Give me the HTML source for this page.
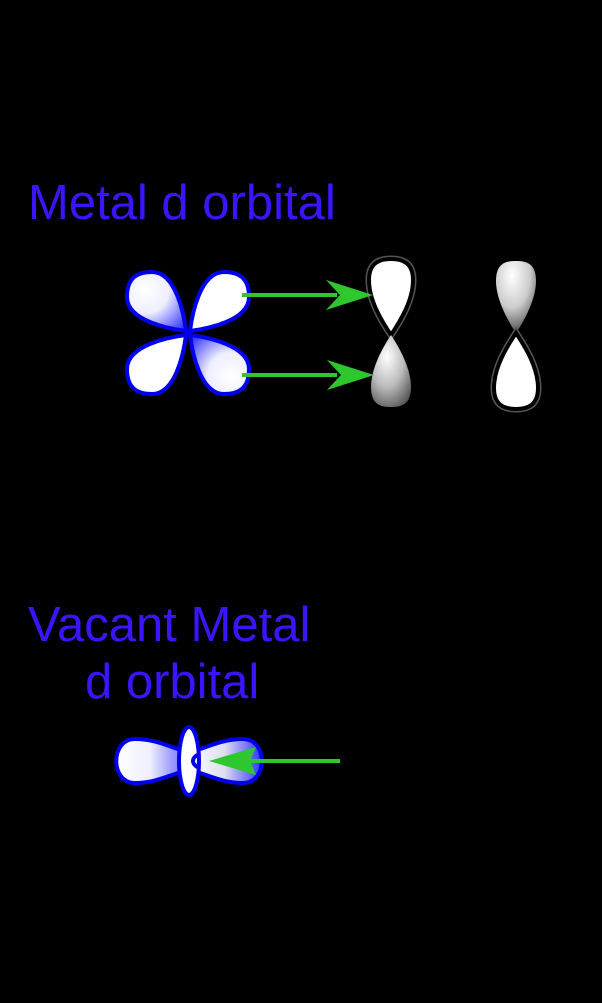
<!DOCTYPE html>
<html><head><meta charset="utf-8"><style>
html,body{margin:0;padding:0;background:#000;}
svg{display:block;}
text{font-family:"Liberation Sans",sans-serif;fill:#3c14ff;}
</style></head><body>
<svg width="602" height="1003" viewBox="0 0 602 1003">
<defs>
<radialGradient id="bw" cx="0.3" cy="0.3" r="0.9"><stop offset="0" stop-color="#fff"/><stop offset="0.45" stop-color="#eeeeff"/><stop offset="1" stop-color="#3a3aff"/></radialGradient>
<radialGradient id="gw" cx="0.4" cy="0.3" r="0.85"><stop offset="0" stop-color="#fff"/><stop offset="0.5" stop-color="#bbb"/><stop offset="1" stop-color="#444"/></radialGradient>
<radialGradient id="gw2" cx="0.4" cy="0.2" r="0.9"><stop offset="0" stop-color="#fff"/><stop offset="0.5" stop-color="#ccc"/><stop offset="1" stop-color="#333"/></radialGradient>
<linearGradient id="lb" x1="0" y1="0" x2="1" y2="0"><stop offset="0" stop-color="#fff"/><stop offset="0.5" stop-color="#eef"/><stop offset="1" stop-color="#7070ff"/></linearGradient>
<linearGradient id="rb" x1="0" y1="0" x2="1" y2="0"><stop offset="0" stop-color="#fff"/><stop offset="0.5" stop-color="#dde"/><stop offset="1" stop-color="#3030ff"/></linearGradient>
</defs>

<text x="28" y="219" font-size="49">Metal d orbital</text>

<g transform="translate(188,333)" stroke="#0000ee" stroke-width="4">
<path d="M-2,-2 C-18,-4 -61,-12 -61,-36 C-61,-56 -50,-61 -36,-61 C-12,-61 -4,-18 -2,-2Z" fill="url(#bw)"/>
<path d="M-2,-2 C-18,-4 -61,-12 -61,-36 C-61,-56 -50,-61 -36,-61 C-12,-61 -4,-18 -2,-2Z" transform="scale(-1,1)" fill="#fff"/>
<path d="M-2,-2 C-18,-4 -61,-12 -61,-36 C-61,-56 -50,-61 -36,-61 C-12,-61 -4,-18 -2,-2Z" transform="scale(1,-1)" fill="#fff"/>
<path d="M-2,-2 C-18,-4 -61,-12 -61,-36 C-61,-56 -50,-61 -36,-61 C-12,-61 -4,-18 -2,-2Z" transform="scale(-1,-1)" fill="url(#bw)"/>
</g>

<g transform="translate(391,335)">
<path d="M0,0 C-10,-15 -22,-35 -22,-55 C-22,-72 -12,-76 0,-76 C12,-76 22,-72 22,-55 C22,-35 10,-15 0,0Z" fill="#fff" stroke="#555" stroke-width="7"/>
<path d="M0,0 C-10,-15 -22,-35 -22,-55 C-22,-72 -12,-76 0,-76 C12,-76 22,-72 22,-55 C22,-35 10,-15 0,0Z" fill="#fff" stroke="#000" stroke-width="4"/>
<path d="M0,0 C-10,15 -20,35 -20,52 C-20,70 -10,72 0,72 C10,72 20,70 20,52 C20,35 10,15 0,0Z" fill="url(#gw)"/>
</g>
<g transform="translate(516,333)">
<path d="M0,0 C-10,-15 -20,-35 -20,-52 C-20,-70 -10,-72 0,-72 C10,-72 20,-70 20,-52 C20,-35 10,-15 0,0Z" fill="url(#gw2)"/>
<path d="M0,0 C-10,15 -22,35 -22,55 C-22,72 -12,76 0,76 C12,76 22,72 22,55 C22,35 10,15 0,0Z" fill="#fff" stroke="#555" stroke-width="7"/>
<path d="M0,0 C-10,15 -22,35 -22,55 C-22,72 -12,76 0,76 C12,76 22,72 22,55 C22,35 10,15 0,0Z" fill="#fff" stroke="#000" stroke-width="4"/>
</g>

<g fill="#2ec82e">
<rect x="242" y="293" width="95" height="4"/>
<path d="M373,295 L326,280 L340,295 L326,310Z"/>
</g>
<g fill="#2ec82e">
<rect x="242" y="373" width="95" height="4"/>
<path d="M374,375 L327,360 L341,375 L327,390Z"/>
</g>

<text x="28" y="641" font-size="49">Vacant Metal</text>
<text x="85" y="698" font-size="49">d orbital</text>

<g stroke="#0000ee" stroke-width="4">
<path d="M184,751 C170,747 155,739 135,739 C110,739 110,783 135,783 C155,783 170,775 184,771Z" fill="url(#lb)"/>
<path d="M194,751 C208,747 223,739 243,739 C268,739 268,783 243,783 C223,783 208,775 194,771 C186,767 186,755 194,751Z" fill="url(#rb)"/>
<ellipse cx="189" cy="761" rx="10" ry="34" fill="#fff"/>
<path d="M199,754 C191,758 191,764 199,768" fill="none"/>
</g>
<g fill="#2ec82e">
<rect x="250" y="759" width="90" height="4"/>
<path d="M209,761 L256,747 L250,761 L256,775Z"/>
</g>
</svg>
</body></html>
